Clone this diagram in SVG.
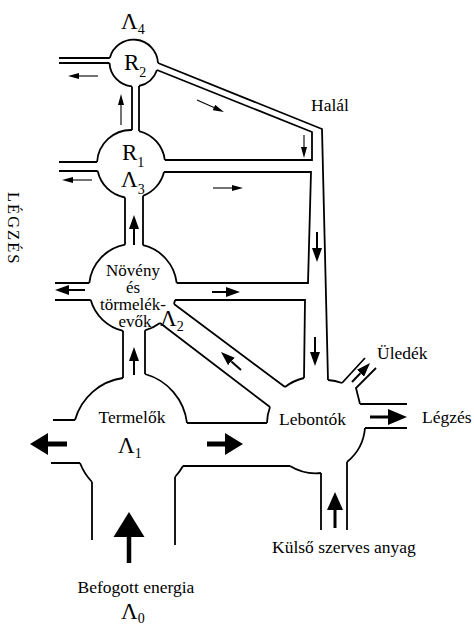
<svg xmlns="http://www.w3.org/2000/svg" width="474" height="625" viewBox="0 0 474 625">
<style>
.w{fill:none;stroke:#000;stroke-width:1.8;stroke-linejoin:miter}
.a1{fill:none;stroke:#000;stroke-width:1.1}
.a2{fill:none;stroke:#000;stroke-width:2}
.ab{fill:#000;stroke:none}
text{font-family:"Liberation Serif","Times New Roman",serif;fill:#000}
.t{font-size:17.5px}
.n{font-size:17px}
.g{font-size:23px}
.s{font-size:14px}
</style>
<defs>
<marker id="ms" viewBox="0 0 11 6" refX="0" refY="3" markerWidth="11" markerHeight="6" markerUnits="userSpaceOnUse" orient="auto"><path d="M0,0L11,3L0,6z"/></marker>
<marker id="mm" viewBox="0 0 14 10" refX="0" refY="5" markerWidth="14" markerHeight="10" markerUnits="userSpaceOnUse" orient="auto"><path d="M0,0L14,5L0,10z"/></marker>
</defs>
<rect width="474" height="625" fill="#fff"/>

<g id="connectors">
<path class="w" d="M59,58H109.8M59,63H109.5"/>
<path class="w" d="M132,86.4V130M139,86V131"/>
<path class="w" d="M158,63L322,129L328,380M157,70L312,132V160H164.8"/>
<path class="w" d="M59,162H97.1M59,171H97.7"/>
<path class="w" d="M164,172H311L308,283H176.7"/>
<path class="w" d="M125,197.5V244.7M143,195.8V245.2"/>
<path class="w" d="M55,283H89.3M55,300H90.7"/>
<path class="w" d="M175,300H305L304,378"/>
<path class="w" d="M174,304L285,387M160,323L270,407"/>
<path class="w" d="M123,330.8V378M145,330.3V374"/>
<path class="w" d="M53,420H75M51,463H80"/>
<path class="w" d="M92,482V540M175,477V545"/>
<path class="w" d="M187,423H267M183,466L290,466"/>
<path class="w" d="M321,473V530M347,462V530"/>
<path class="w" d="M360,404H407M365,428H407"/>
<path class="w" d="M342,383L365,358M376,368L356,388L360,404"/>

<path class="a1" marker-end="url(#ms)" d="M98,76H79"/>
<path class="a1" marker-end="url(#ms)" d="M121,125V105"/>
<path class="a1" marker-end="url(#ms)" d="M197,100L213.9,107.5"/>
<path class="a1" marker-end="url(#ms)" d="M92,180H73"/>
<path class="a1" marker-end="url(#ms)" d="M213,188H232"/>
<path class="a1" marker-end="url(#ms)" d="M304,135V147"/>

<path class="a2" marker-end="url(#mm)" d="M317,232V248"/>
<path class="a2" marker-end="url(#mm)" d="M134,245V229"/>
<path class="a2" marker-end="url(#mm)" d="M85,290H69"/>
<path class="a2" marker-end="url(#mm)" d="M212,292H226"/>
<path class="a2" marker-end="url(#mm)" d="M134,375V361"/>
<path class="a2" marker-end="url(#mm)" d="M241,370L231.4,361.4"/>
<path class="a2" marker-end="url(#mm)" d="M315,337V352"/>
<path class="a2" marker-end="url(#mm)" d="M352,382L360.4,373.2"/>

<line x1="48" y1="444" x2="67" y2="444" stroke="#000" stroke-width="5"/>
<polygon class="ab" points="30,444 48,433 48,455"/>
<line x1="207" y1="444" x2="225" y2="444" stroke="#000" stroke-width="5"/>
<polygon class="ab" points="243,444 225,433 225,455"/>
<line x1="370" y1="417" x2="388" y2="417" stroke="#000" stroke-width="3"/>
<polygon class="ab" points="407,417 388,409 388,425"/>
<line x1="129" y1="537" x2="129" y2="563" stroke="#000" stroke-width="4.5"/>
<polygon class="ab" points="129,512 113.5,537 144.5,537"/>
<line x1="335" y1="510" x2="335" y2="528" stroke="#000" stroke-width="3"/>
<polygon class="ab" points="335,492 327,510 343,510"/>
</g>

<g id="r2">
<path class="w" d="M109.8,58A24.5,24.5 0 0,1 158,63M157,70A24.5,24.5 0 0,1 139,86M132,86.4A24.5,24.5 0 0,1 109.5,63"/>
<text class="g" x="121" y="29">Λ<tspan class="s" dy="5">4</tspan></text>
<text class="g" x="124" y="70">R<tspan class="s" dy="7">2</tspan></text>
</g>

<g id="r1">
<path class="w" d="M132,130A34,34 0 0,0 97.1,162M139,131A34,34 0 0,1 164.8,160M97.7,171A34,34 0 0,0 125,197.5M143,195.8A34,34 0 0,0 164,172"/>
<text class="g" x="122" y="160">R<tspan class="s" dy="7">1</tspan></text>
<text class="g" x="121" y="187">Λ<tspan class="s" dy="7">3</tspan></text>
</g>

<g id="noveny">
<path class="w" d="M125,244.7A44,44 0 0,0 89.3,283M143,245.2A44,44 0 0,1 176.7,283M90.7,300A44,44 0 0,0 123,330.8M175,300A44,44 0 0,1 174,304M160,323A44,44 0 0,1 145,330.3"/>
<text class="n" text-anchor="middle" x="133" y="276">Növény</text>
<text class="n" text-anchor="middle" x="133" y="293">és</text>
<text class="n" text-anchor="middle" x="133" y="310">törmelék-</text>
<text class="n" text-anchor="middle" x="135" y="327">evők</text>
<text class="g" x="160" y="326">Λ<tspan class="s" dy="5">2</tspan></text>
</g>

<g id="termelok">
<path class="w" d="M75,420A58,58 0 0,1 123,378M145,374A58,58 0 0,1 187,423M80,463A58,58 0 0,0 92,482M183,466A58,58 0 0,1 175,477"/>
<text class="t" text-anchor="middle" x="132" y="423">Termelők</text>
<text class="g" x="118" y="453">Λ<tspan class="s" dy="5">1</tspan></text>
</g>

<g id="lebontok">
<path class="w" d="M270,407A49,49 0 0,0 267,423M285,387A49,49 0 0,1 304,378M328,380A49,49 0 0,1 342,383M365,428A49,49 0 0,1 347,462M321,473A49,49 0 0,1 290,466"/>
<text class="t" x="279" y="425">Lebontók</text>
</g>

<g id="labels">
<text class="t" x="311" y="111">Halál</text>
<text class="t" x="377" y="359">Üledék</text>
<text class="t" x="422" y="423">Légzés</text>
<text class="t" x="272" y="553" font-size="18.5">Külső szerves anyag</text>
<text class="t" text-anchor="middle" x="136" y="593">Befogott energia</text>
<text class="g" x="121" y="619">Λ<tspan class="s" dy="4">0</tspan></text>
<text transform="translate(8,192) rotate(90)" font-size="16.5" letter-spacing="2">LÉGZÉS</text>
</g>
</svg>
